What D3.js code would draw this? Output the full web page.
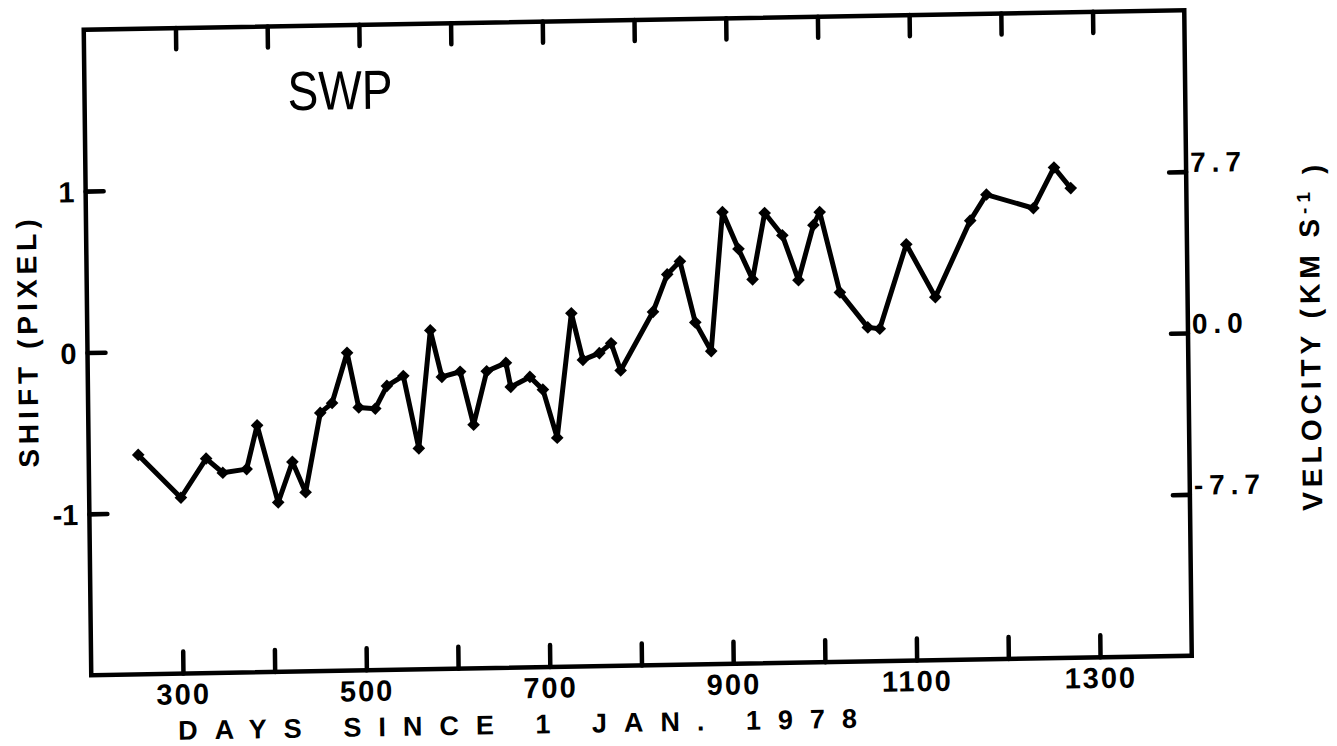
<!DOCTYPE html>
<html>
<head>
<meta charset="utf-8">
<script src="https://cdn.jsdelivr.net/npm/d3@7"></script>
<style>
  body { margin: 0; background: #fff; }
  text { font-family: "Liberation Sans", Arial, sans-serif; fill: #000; }
</style>
</head>
<body>
<div id="chart"></div>
<script>
// values
const days = [254, 300, 328, 346, 372, 384, 406, 422, 436, 453, 466, 483, 495, 513, 526, 544,
    560, 574, 586, 606, 620, 635, 656, 661, 682, 696, 711, 728, 740, 758, 771, 781,
    817, 833, 847, 863, 880, 894, 911, 926, 940, 959, 976, 993, 1000, 1021, 1051, 1064,
    1094, 1125, 1164, 1182, 1233, 1256, 1274];
const shift = [-0.64, -0.91, -0.67, -0.76, -0.74, -0.47, -0.95, -0.70, -0.89, -0.40, -0.34, -0.03,
    -0.37, -0.38, -0.24, -0.18, -0.63, 0.10, -0.19, -0.16, -0.49, -0.16, -0.11, -0.26,
    -0.20, -0.28, -0.58, 0.19, -0.10, -0.06, 0.00, -0.17, 0.19, 0.42, 0.50, 0.12,
    -0.06, 0.80, 0.57, 0.38, 0.79, 0.65, 0.37, 0.71, 0.79, 0.29, 0.07, 0.06,
    0.58, 0.25, 0.72, 0.88, 0.79, 1.04, 0.91];

const dayTicks = [300, 400, 500, 600, 700, 800, 900, 1000, 1100, 1200, 1300];
const dayLabels = [300, 500, 700, 900, 1100, 1300];
const shiftTicks = [-1, 0, 1];
const velocityTicks = [-7.7, 0, 7.7];

const W = 1100, H = 645;

const svg = d3.select("#chart").append("svg")
    .attr("width", 1337)
    .attr("height", 746);

// the scan is slightly skewed, so the whole plot sits in a tilted frame
const g = svg.append("g")
    .attr("transform", "matrix(1.000455,-0.017727,0.011628,1.000775,83.75,29.75)");

const x = d3.scaleLinear().domain([200, 1400]).range([0, W]);
const y = d3.scaleLinear().domain([-2, 2]).range([H, 0]);
const yv = d3.scaleLinear().domain([-15.4, 15.4]).range([H, 0]);

function styleAxis(sel) {
    sel.select(".domain").remove();
    sel.selectAll(".tick line")
        .attr("stroke", "#000")
        .attr("stroke-width", 4.5)
        .attr("stroke-linecap", "round");
    sel.selectAll(".tick text")
        .style("font-family", "'Liberation Sans', Arial, sans-serif")
        .style("font-weight", "bold")
        .attr("fill", "#000");
}

g.append("g")
    .attr("transform", `translate(0,${H})`)
    .call(d3.axisBottom(x).tickValues(dayTicks).tickSize(-22).tickPadding(10)
        .tickFormat(d => dayLabels.includes(d) ? d : ""))
    .call(styleAxis)
    .selectAll(".tick text")
    .style("font-size", "29px")
    .style("letter-spacing", "2px");

g.append("g")
    .call(d3.axisTop(x).tickValues(dayTicks).tickSize(-21).tickFormat(""))
    .call(styleAxis);

g.append("g")
    .call(d3.axisLeft(y).tickValues(shiftTicks).tickSize(-18).tickPadding(11)
        .tickFormat(d => d === 0 ? "0" : (d < 0 ? "-" + Math.abs(d) : d)))
    .call(styleAxis)
    .selectAll(".tick text")
    .style("font-size", "29px")
    .attr("dy", "0.36em");

g.append("g")
    .attr("transform", `translate(${W},0)`)
    .call(d3.axisRight(yv).tickValues(velocityTicks).tickSize(-17).tickPadding(4)
        .tickFormat(d => d.toFixed(1)))
    .call(styleAxis)
    .selectAll(".tick text")
    .style("font-size", "28px")
    .style("letter-spacing", "6px")
    .attr("dy", "0");

// frame
g.append("rect")
    .attr("x", 0).attr("y", 0)
    .attr("width", W).attr("height", H)
    .attr("fill", "none")
    .attr("stroke", "#000")
    .attr("stroke-width", 4.5);

const pts = days.map((d, i) => [d, shift[i]]);

g.append("path")
    .datum(pts)
    .attr("fill", "none")
    .attr("stroke", "#000")
    .attr("stroke-width", 5)
    .attr("stroke-linejoin", "round")
    .attr("d", d3.line().x(d => x(d[0])).y(d => y(d[1])));

g.selectAll(".pt")
    .data(pts)
    .enter()
    .append("path")
    .attr("class", "pt")
    .attr("d", d3.symbol(d3.symbolSquare, 80))
    .attr("transform", d => `translate(${x(d[0])},${y(d[1])}) rotate(45)`)
    .attr("fill", "#000");

// labels
g.append("text")
    .attr("x", 203).attr("y", 84)
    .attr("textLength", 105)
    .attr("lengthAdjust", "spacingAndGlyphs")
    .style("font-size", "55px")
    .text("SWP");

g.append("text")
    .attr("x", 434).attr("y", H + 66)
    .attr("text-anchor", "middle")
    .style("font-size", "27px")
    .style("font-weight", "bold")
    .style("letter-spacing", "17px")
    .text("DAYS SINCE 1 JAN. 1978");

g.append("text")
    .attr("transform", `translate(-50,310) rotate(-90)`)
    .attr("text-anchor", "middle")
    .style("font-size", "28px")
    .style("font-weight", "bold")
    .style("letter-spacing", "5px")
    .text("SHIFT (PIXEL)");

const vt = g.append("text")
    .attr("transform", `translate(1232,327) rotate(-90)`)
    .attr("text-anchor", "middle")
    .style("font-size", "28px")
    .style("font-weight", "bold")
    .style("letter-spacing", "5px");
vt.append("tspan").text("VELOCITY (KM S");
vt.append("tspan").attr("dy", "-0.45em").style("font-size", "19px").text("-1");
vt.append("tspan").attr("dy", "0.45em").text(" )");
</script>
</body>
</html>
